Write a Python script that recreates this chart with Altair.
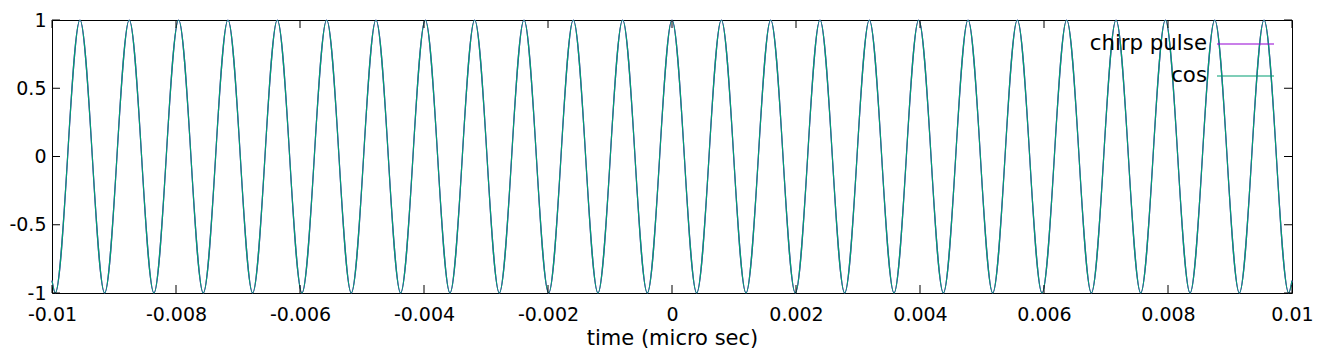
import altair as alt
import pandas as pd

# ---- data ----
series_names = ["chirp pulse", "cos"]
series_colors = ["#9400d3", "#009e73"]

# times of the maxima (value +1)
peak_t = [-0.009549, -0.008754, -0.007958, -0.007162, -0.006366, -0.005570,
          -0.004775, -0.003979, -0.003183, -0.002387, -0.001592, -0.000796,
          0.0, 0.000796, 0.001592, 0.002387, 0.003183, 0.003979, 0.004775,
          0.005570, 0.006366, 0.007162, 0.007958, 0.008754, 0.009549]
# times of the minima (value -1)
trough_t = [-0.009947, -0.009151, -0.008356, -0.007560, -0.006764, -0.005968,
            -0.005173, -0.004377, -0.003581, -0.002785, -0.001989, -0.001194,
            -0.000398, 0.000398, 0.001194, 0.001989, 0.002785, 0.003581,
            0.004377, 0.005173, 0.005968, 0.006764, 0.007560, 0.008356,
            0.009151, 0.009947]
# values at the two ends of the time range
edge_t = [-0.01, 0.01]
edge_v = [-0.91, -0.91]

x_ticks = [-0.01, -0.008, -0.006, -0.004, -0.002, 0, 0.002, 0.004, 0.006, 0.008, 0.01]
y_ticks = [-1, -0.5, 0, 0.5, 1]

# ---- build tables ----
pts = ([(t, 1.0) for t in peak_t] + [(t, -1.0) for t in trough_t]
       + list(zip(edge_t, edge_v)))
pts.sort(key=lambda p: p[0])
wave = pd.DataFrame(pts, columns=["t", "v"])

W, H = 1240, 273
FONT = "DejaVu Sans"
TICK = 8

X = alt.X("t:Q",
          scale=alt.Scale(domain=[-0.01, 0.01], nice=False, zero=False),
          axis=alt.Axis(values=x_ticks, labelExpr="'' + datum.value",
                        title="time (micro sec)", ticks=False, tickSize=0,
                        domain=False, grid=False, labelFontSize=19,
                        labelPadding=12, labelFlush=False, labelOverlap=False,
                        titleFontSize=21,
                        titleBaseline="alphabetic", titleY=51))
Y = alt.Y("v:Q",
          scale=alt.Scale(domain=[-1, 1], nice=False, zero=False),
          axis=alt.Axis(values=y_ticks, labelExpr="'' + datum.value",
                        title=None, ticks=False, tickSize=0, domain=False,
                        grid=False, labelFontSize=19, labelPadding=6,
                        labelFlush=False, labelOverlap=False))

layers = []
for name, col in zip(series_names, series_colors):
    d = wave.assign(series=name)
    layers.append(
        alt.Chart(d).mark_line(color=col, strokeWidth=1.2, interpolate="monotone")
        .encode(x=X, y=Y)
    )

xt = pd.DataFrame({"t": x_ticks})
yt = pd.DataFrame({"v": y_ticks})
layers.append(alt.Chart(xt).mark_rule(color="black", strokeWidth=1)
              .encode(x=X, y=alt.value(H), y2=alt.value(H - TICK)))
layers.append(alt.Chart(xt).mark_rule(color="black", strokeWidth=1)
              .encode(x=X, y=alt.value(0), y2=alt.value(TICK)))
layers.append(alt.Chart(yt).mark_rule(color="black", strokeWidth=1)
              .encode(y=Y, x=alt.value(0), x2=alt.value(TICK)))
layers.append(alt.Chart(yt).mark_rule(color="black", strokeWidth=1)
              .encode(y=Y, x=alt.value(W), x2=alt.value(W - TICK)))

# legend (key text on the left, sample line on the right), placed from the right border
for i, (name, col) in enumerate(zip(series_names, series_colors)):
    ld = pd.DataFrame({"series": [name]})
    ypos = 24 + 32 * i
    layers.append(alt.Chart(ld).mark_text(align="right", baseline="middle",
                                          font=FONT, fontSize=21.3, color="black")
                  .encode(text="series:N", x=alt.value(W - 85), y=alt.value(ypos)))
    layers.append(alt.Chart(ld).mark_rule(color=col, strokeWidth=1.2)
                  .encode(x=alt.value(W - 75), x2=alt.value(W - 18), y=alt.value(ypos)))

chart = (alt.layer(*layers)
         .properties(width=W, height=H,
                     padding={"left": 44, "top": 12, "right": 22, "bottom": 64},
                     autosize=alt.AutoSizeParams(type="none"))
         .configure_view(stroke="black", strokeWidth=1)
         .configure_axis(labelFont=FONT, titleFont=FONT, labelColor="black",
                         titleColor="black", titleFontWeight="normal"))

chart.save("out.html", embed_options={"renderer": "svg", "actions": False})
